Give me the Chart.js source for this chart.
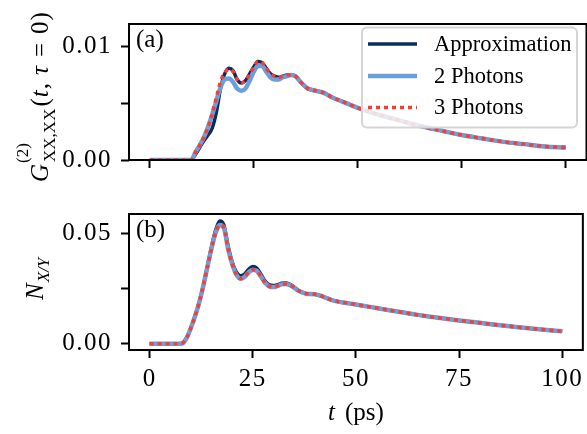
<!DOCTYPE html>
<html lang="en">
<head>
  <meta charset="UTF-8" />
  <title>G2 and N_X/Y vs t</title>
  <style>
    body { margin: 0; background: #fff; }
    #wrap { position: relative; width: 587px; height: 434px; overflow: hidden; }
    #topBox { position: absolute; left: 0; top: 0; width: 587px; height: 190px; }
    #botBox { position: absolute; left: 0; top: 190px; width: 587px; height: 244px; }
  </style>
</head>
<body>
  <div id="wrap">
    <div id="topBox"><canvas id="chartTop"></canvas></div>
    <div id="botBox"><canvas id="chartBot"></canvas></div>
  </div>

  <script src="https://cdn.jsdelivr.net/npm/chart.js"></script>
  <script>
    // --- data ---
    const xTicks = [0, 25, 50, 75, 100];
    const xTickLabels = ['0', '25', '50', '75', '100'];

    // panel (a): G2
    const tTop = [0, 5, 9, 10, 11, 12, 13, 14, 15, 16, 17, 18, 19, 20, 21, 22, 23, 24, 25, 26, 27, 28, 29, 30,
      31, 32, 33, 34, 35, 36, 37, 38, 40, 42, 43, 44, 46, 48, 50, 55, 60, 65, 70, 75, 80, 85, 90, 95, 100];
    const apxTop = [0, 0, 0, 0.00002, 0.0005, 0.0011, 0.0017, 0.0022, 0.0028, 0.0042, 0.0063, 0.0076, 0.0081, 0.0079,
      0.0071, 0.0068, 0.0070, 0.0076, 0.0082, 0.0087, 0.0086, 0.0081, 0.0076, 0.0074, 0.0073, 0.0074, 0.0075, 0.0075,
      0.0074, 0.0070, 0.0066, 0.0063, 0.0061, 0.0059, 0.0057, 0.0055, 0.0052, 0.0049, 0.0046, 0.0040, 0.0035, 0.0030,
      0.0026, 0.0022, 0.0019, 0.0016, 0.0014, 0.0012, 0.0011];
    const two2Top = [0, 0, 0, 0.00002, 0.0007, 0.0013, 0.0020, 0.0029, 0.0040, 0.0052, 0.0064, 0.0071, 0.0072, 0.0069,
      0.0063, 0.0061, 0.0063, 0.0070, 0.0078, 0.0083, 0.0083, 0.0078, 0.0073, 0.0071, 0.0071, 0.0073, 0.0074, 0.0075,
      0.0074, 0.0070, 0.0066, 0.0063, 0.0061, 0.0059, 0.0057, 0.0055, 0.0052, 0.0049, 0.0046, 0.0040, 0.0035, 0.0030,
      0.0026, 0.0022, 0.0019, 0.0016, 0.0014, 0.0012, 0.0011];
    const three3Top = [0, 0, 0, 0.00002, 0.0007, 0.0013, 0.0020, 0.0029, 0.0041, 0.0055, 0.0069, 0.0077, 0.0080, 0.0078,
      0.0071, 0.0068, 0.0070, 0.0076, 0.0082, 0.0087, 0.0086, 0.0081, 0.0076, 0.0074, 0.0073, 0.0074, 0.0075, 0.0075,
      0.0074, 0.0070, 0.0066, 0.0063, 0.0061, 0.0059, 0.0057, 0.0055, 0.0052, 0.0049, 0.0046, 0.0040, 0.0035, 0.0030,
      0.0026, 0.0022, 0.0019, 0.0016, 0.0014, 0.0012, 0.0011];
    const yTicksTop = [0, 0.005, 0.01];
    const yLabelsTop = ['0.00', '', '0.01'];

    // panel (b): N_X/Y
    const tBot = [0, 5, 7, 8, 9, 10, 11, 12, 13, 14, 15, 16, 17, 18, 19, 20, 21, 22, 23, 24, 25, 26, 27, 28, 29, 30,
      31, 32, 33, 34, 35, 36, 37, 38, 40, 42, 44, 46, 48, 50, 55, 60, 65, 70, 75, 80, 85, 90, 95, 100];
    const apxBot = [0, 0, 0, 0.0003, 0.0028, 0.0072, 0.0125, 0.0186, 0.0262, 0.0350, 0.0440, 0.0515, 0.0556, 0.0538,
      0.0445, 0.0372, 0.0326, 0.0308, 0.0316, 0.0338, 0.0350, 0.0342, 0.0314, 0.0284, 0.0267, 0.0264, 0.0268, 0.0274,
      0.0276, 0.0270, 0.0258, 0.0243, 0.0233, 0.0227, 0.0225, 0.0214, 0.0199, 0.0190, 0.0184, 0.0178, 0.0162, 0.0146,
      0.0131, 0.0118, 0.0106, 0.0095, 0.0084, 0.0074, 0.0065, 0.0057];
    const two2Bot = [0, 0, 0, 0.0003, 0.0028, 0.0072, 0.0125, 0.0186, 0.0262, 0.0348, 0.0432, 0.0503, 0.0538, 0.0525,
      0.0432, 0.0362, 0.0314, 0.0295, 0.0303, 0.0324, 0.0336, 0.0330, 0.0304, 0.0276, 0.0260, 0.0257, 0.0262, 0.0269,
      0.0271, 0.0266, 0.0255, 0.0241, 0.0233, 0.0227, 0.0225, 0.0214, 0.0199, 0.0190, 0.0184, 0.0178, 0.0162, 0.0146,
      0.0131, 0.0118, 0.0106, 0.0095, 0.0084, 0.0074, 0.0065, 0.0057];
    const three3Bot = [0, 0, 0, 0.0003, 0.0028, 0.0072, 0.0125, 0.0186, 0.0262, 0.0348, 0.0432, 0.0503, 0.0538, 0.0525,
      0.0432, 0.0362, 0.0314, 0.0295, 0.0303, 0.0324, 0.0336, 0.0330, 0.0304, 0.0276, 0.0260, 0.0257, 0.0262, 0.0269,
      0.0271, 0.0266, 0.0255, 0.0241, 0.0233, 0.0227, 0.0225, 0.0214, 0.0199, 0.0190, 0.0184, 0.0178, 0.0162, 0.0146,
      0.0131, 0.0118, 0.0106, 0.0095, 0.0084, 0.0074, 0.0065, 0.0057];
    const yTicksBot = [0, 0.025, 0.05];
    const yLabelsBot = ['0.00', '', '0.05'];

    const seriesNames = ['Approximation', '2 Photons', '3 Photons'];

    // --- styles ---
    const SERIF = "'Liberation Serif', 'Times New Roman', serif";
    const colApx = '#0b2d5e';
    const colTwo = '#6a9fdc';
    const colThree = '#ff3b30';

    function pts(t, v) {
      return t.map((x, i) => ({ x: x, y: v[i] }));
    }

    function makeSets(t, a, b, c) {
      return [
        { label: seriesNames[0], data: pts(t, a), borderColor: colApx, borderWidth: 3.5, order: 3 },
        { label: seriesNames[1], data: pts(t, b), borderColor: colTwo, borderWidth: 4.5, order: 2 },
        { label: seriesNames[2], data: pts(t, c), borderColor: colThree, borderWidth: 3.5, borderDash: [4, 4], order: 1 }
      ];
    }

    // rich text drawn along a rotated baseline (for the math y labels)
    function drawRich(ctx, x, y, parts) {
      let cx = 0;
      ctx.save();
      ctx.letterSpacing = '0px';
      ctx.translate(x, y);
      ctx.rotate(-Math.PI / 2);
      ctx.textAlign = 'left';
      ctx.textBaseline = 'alphabetic';
      ctx.fillStyle = '#000';
      parts.forEach(p => {
        cx += p.gap || 0;
        ctx.font = p.font;
        ctx.fillText(p.text, cx, p.dy || 0);
        if (!p.stack) cx += ctx.measureText(p.text).width;
      });
      ctx.restore();
    }

    // frame, panel letter, labels, legend
    const decorPlugin = {
      id: 'decor',
      beforeDraw(chart) {
        // tick numbers in the original are set a little wider than plain Times
        chart.ctx.letterSpacing = '1.5px';
      },
      beforeDatasetsDraw(chart) {
        chart.ctx.letterSpacing = '0px';
      },
      afterDraw(chart, args, opts) {
        const ctx = chart.ctx;
        const a = chart.chartArea;
        ctx.save();
        ctx.letterSpacing = '0px';
        ctx.strokeStyle = '#000';
        ctx.lineWidth = 2;
        ctx.strokeRect(a.left, a.top, a.right - a.left, a.bottom - a.top);

        ctx.fillStyle = '#000';
        ctx.font = '25px ' + SERIF;
        ctx.textAlign = 'left';
        ctx.textBaseline = 'alphabetic';
        ctx.fillText(opts.tag, a.left + 7, a.top + 23);

        if (opts.legend) {
          const bx = 362, by = 27.5, bw = 215, bh = 100;
          ctx.beginPath();
          ctx.roundRect(bx, by, bw, bh, 5);
          ctx.fillStyle = 'rgba(255,255,255,0.8)';
          ctx.fill();
          ctx.strokeStyle = '#d5d5d5';
          ctx.lineWidth = 2;
          ctx.stroke();
          const rows = [44, 76, 107.5];
          chart.data.datasets.forEach((ds, i) => {
            ctx.beginPath();
            ctx.strokeStyle = ds.borderColor;
            ctx.lineWidth = ds.borderWidth;
            ctx.setLineDash(ds.borderDash || []);
            ctx.moveTo(368, rows[i]);
            ctx.lineTo(417, rows[i]);
            ctx.stroke();
            ctx.setLineDash([]);
            ctx.fillStyle = '#000';
            ctx.font = '22.5px ' + SERIF;
            ctx.textBaseline = 'middle';
            ctx.fillText(ds.label, 434, rows[i] + 1);
          });
        }

        if (opts.xTitle) {
          const cx = (a.left + a.right) / 2;
          ctx.textBaseline = 'alphabetic';
          ctx.font = 'italic 25px ' + SERIF;
          const w1 = ctx.measureText('t').width;
          ctx.font = '25px ' + SERIF;
          const w2 = ctx.measureText('(ps)').width;
          const gap = 10;
          const x0 = cx - (w1 + gap + w2) / 2;
          ctx.font = 'italic 25px ' + SERIF;
          ctx.fillText('t', x0, 230);
          ctx.font = '25px ' + SERIF;
          ctx.fillText('(ps)', x0 + w1 + gap, 230);
        }
        ctx.restore();

        if (opts.yTitle) opts.yTitle(ctx);
      }
    };

    function axisCfg(xLabels, yMin, yMax, yTicks, yLabels, xHeight) {
      const tickFont = { family: SERIF, size: 25 };
      return {
        x: {
          type: 'linear', min: -5, max: 105,
          afterBuildTicks: s => { s.ticks = xTicks.map(v => ({ value: v })); },
          afterFit: s => { s.height = xHeight; },
          grid: { drawOnChartArea: false, drawTicks: true, tickLength: 8, tickWidth: 2, tickColor: '#000' },
          border: { display: false },
          ticks: {
            color: '#000', font: tickFont, padding: 6, maxRotation: 0, autoSkip: false,
            callback: (v, i) => xLabels ? xLabels[i] : ''
          }
        },
        y: {
          min: yMin, max: yMax,
          afterBuildTicks: s => { s.ticks = yTicks.map(v => ({ value: v })); },
          afterFit: s => { s.width = 129; },
          grid: { drawOnChartArea: false, drawTicks: true, tickLength: 8, tickWidth: 2, tickColor: '#000' },
          border: { display: false },
          ticks: {
            color: '#000', font: tickFont, padding: 9, autoSkip: false,
            callback: (v, i) => yLabels[i]
          }
        }
      };
    }

    function makeChart(id, datasets, scales, decor) {
      return new Chart(document.getElementById(id), {
        type: 'line',
        data: { datasets: datasets },
        options: {
          responsive: true,
          maintainAspectRatio: false,
          animation: false,
          devicePixelRatio: 1,
          layout: { padding: { left: 0, right: 0.5, top: 16, bottom: 0 } },
          elements: {
            point: { radius: 0 },
            line: { tension: 0.4, cubicInterpolationMode: 'monotone', fill: false }
          },
          plugins: { legend: { display: false }, tooltip: { enabled: false }, decor: decor },
          scales: scales
        },
        plugins: [decorPlugin]
      });
    }

    // panel (a)
    makeChart('chartTop',
      makeSets(tTop, apxTop, two2Top, three3Top),
      axisCfg(null, 0, 0.012, yTicksTop, yLabelsTop, 30),
      {
        tag: '(a)', legend: true,
        yTitle: ctx => {
          const big = 'italic 25px ' + SERIF, rm = '25px ' + SERIF, sm = '17px ' + SERIF;
          drawRich(ctx, 48, 182, [
            { text: 'G', font: big },
            { text: '(2)', font: sm, dy: -20, gap: 1, stack: true },
            { text: 'XX,XX', font: sm, dy: 7, gap: 1 },
            { text: '(', font: rm, gap: 2 },
            { text: 't', font: big, gap: 1 },
            { text: ',', font: rm, gap: 1 },
            { text: 'τ', font: big, gap: 8 },
            { text: '=', font: rm, gap: 9 },
            { text: '0', font: rm, gap: 9 },
            { text: ')', font: rm, gap: 1 }
          ]);
        }
      });

    // panel (b)
    makeChart('chartBot',
      makeSets(tBot, apxBot, two2Bot, three3Bot),
      axisCfg(xTickLabels, -0.0028, 0.0588, yTicksBot, yLabelsBot, 84),
      {
        tag: '(b)', legend: false, xTitle: true,
        yTitle: ctx => {
          drawRich(ctx, 43, 110, [
            { text: 'N', font: 'italic 25px ' + SERIF },
            { text: 'X/Y', font: 'italic 17px ' + SERIF, dy: 6, gap: 1 }
          ]);
        }
      });
  </script>
</body>
</html>
